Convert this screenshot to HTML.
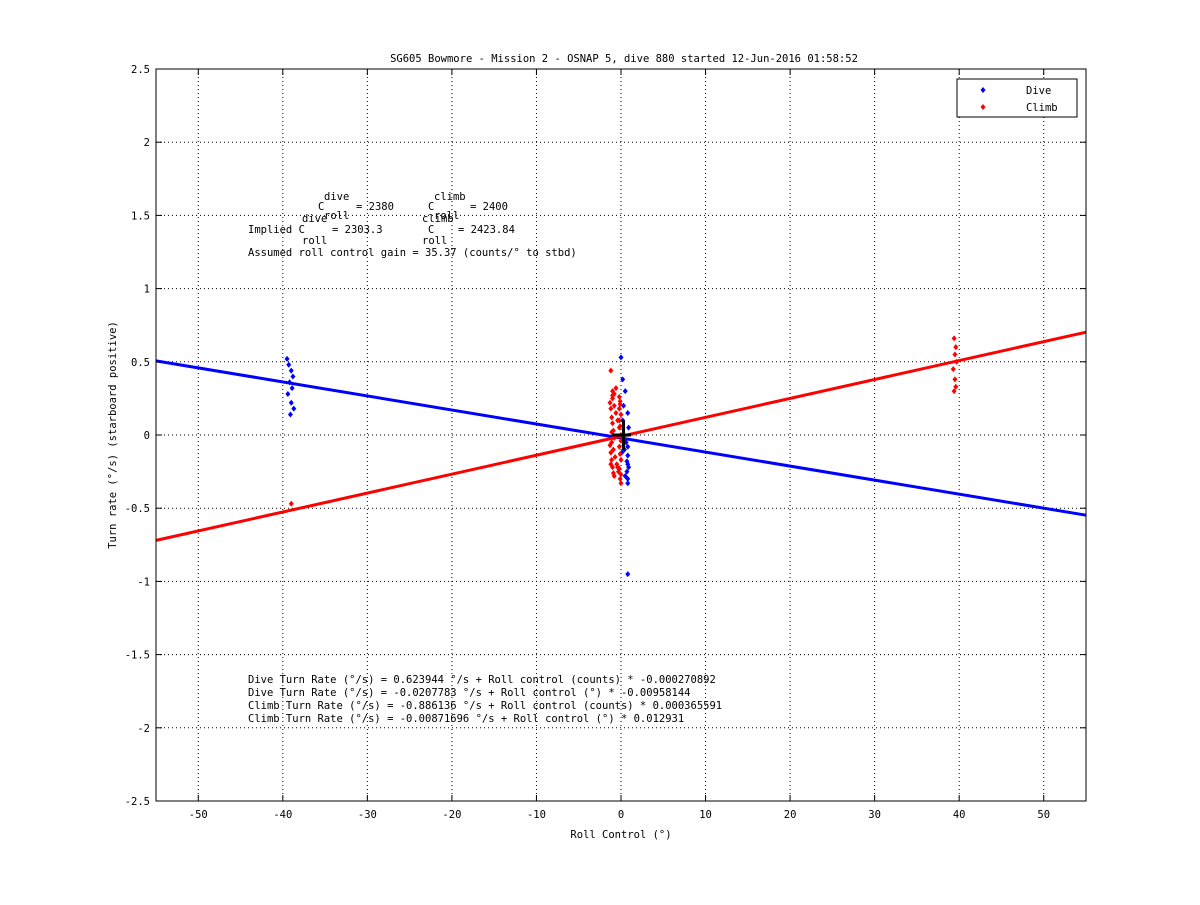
<!DOCTYPE html>
<html><head><meta charset="utf-8"><style>
body{margin:0;background:#fff;}
svg text{font-family:"DejaVu Sans Mono","Liberation Mono",monospace;font-size:10.5px;fill:#000;}
</style></head><body>
<svg id="chart" width="1200" height="900" xmlns="http://www.w3.org/2000/svg">
<rect width="1200" height="900" fill="#fff"/>
<text x="624" y="62" text-anchor="middle">SG605 Bowmore - Mission 2 - OSNAP 5, dive 880 started 12-Jun-2016 01:58:52</text>
<g id="grid"></g>
<g id="marks"></g>
<rect x="156" y="69" width="930" height="732" fill="none" stroke="#000" stroke-width="1"/>
<g id="ticks"></g>
<text x="621" y="838" text-anchor="middle">Roll Control (°)</text>
<text transform="translate(116,435) rotate(-90)" text-anchor="middle">Turn rate (°/s) (starboard positive)</text>
<g>
<text x="324" y="200">dive</text><text x="318" y="210">C</text><text x="356" y="210">= 2380</text><text x="324" y="219">roll</text>
<text x="434" y="200">climb</text><text x="428" y="210">C</text><text x="470" y="210">= 2400</text><text x="434" y="219">roll</text>
<text x="248" y="233">Implied C</text><text x="302" y="222">dive</text><text x="302" y="244">roll</text><text x="332" y="233">= 2303.3</text>
<text x="428" y="233">C</text><text x="422" y="222">climb</text><text x="422" y="244">roll</text><text x="458" y="233">= 2423.84</text>
<text x="248" y="256">Assumed roll control gain = 35.37 (counts/° to stbd)</text>
</g>
<g>
<text x="248" y="683">Dive Turn Rate (°/s) = 0.623944 °/s + Roll control (counts) * -0.000270892</text>
<text x="248" y="696">Dive Turn Rate (°/s) = -0.0207783 °/s + Roll control (°) * -0.00958144</text>
<text x="248" y="709">Climb Turn Rate (°/s) = -0.886136 °/s + Roll control (counts) * 0.000365591</text>
<text x="248" y="722">Climb Turn Rate (°/s) = -0.00871696 °/s + Roll control (°) * 0.012931</text>
</g>
<g>
<rect x="957" y="79" width="120" height="38" fill="#fff" stroke="#000"/>
<path d="M983 87l2.5 3-2.5 3-2.5-3z" fill="#0000ff"/><text x="1026" y="94">Dive</text>
<path d="M983 104l2.5 3-2.5 3-2.5-3z" fill="#ff0000"/><text x="1026" y="111">Climb</text>
</g>
</svg>
<script>
const xTicks=[-50,-40,-30,-20,-10,0,10,20,30,40,50];
const yTicks=[-2.5,-2,-1.5,-1,-0.5,0,0.5,1,1.5,2,2.5];
const diveIntercept=-0.0207783, diveSlope=-0.00958144;
const climbIntercept=-0.00871696, climbSlope=0.012931;
const diveX=[-39.5,-39.3,-39,-38.8,-39.2,-38.9,-39.4,-39,-38.7,-39.1,0,0.2,0.5,0.8,0.9,0.3,0.6,0.1,0.7,0.4,0.9,0.5,0.8,0.2,0.7,0.8,0.8,0.8,0.8,0.8];
const diveY=[0.52,0.48,0.44,0.4,0.36,0.32,0.28,0.22,0.18,0.14,0.53,0.38,0.3,0.15,0.05,0.2,-0.05,-0.12,-0.18,-0.1,-0.22,-0.28,-0.33,0.1,-0.25,-0.95,-0.08,-0.14,-0.2,-0.3];
const climbX=[-39,-1.2,-1,-0.8,-0.6,-0.4,-0.2,0,-1.1,-0.9,-0.7,-0.5,-0.3,-0.1,-1,-0.6,-0.2,-0.8,-0.4,0,
 -1.3,-1.2,-1.1,-1,-0.9,-0.8,-1.3,-1.2,-1.1,-1,-0.9,-0.8,-0.2,-0.1,0,-0.2,-0.1,0,-0.2,-0.1,0,-1.2,-1,-0.2,0,-1.1,-0.1,
 39.4,39.6,39.5,39.7,39.3,39.5,39.6,39.4];
const climbY=[-0.47,0.44,0.25,0.2,0.15,0.1,0.05,0.0,-0.05,-0.1,-0.15,-0.2,-0.25,-0.3,0.3,0.32,0.18,-0.28,-0.22,-0.33,
 0.22,0.18,0.12,0.08,0.03,-0.02,-0.07,-0.12,-0.17,-0.22,-0.26,0.28,0.26,0.21,0.14,0.1,0.06,-0.04,-0.08,-0.13,-0.17,-0.2,0.27,-0.23,-0.27,0.02,0.23,
 0.66,0.6,0.55,0.5,0.45,0.38,0.33,0.3];
const X=v=>156+(v+55)/110*930, Y=v=>435-v/2.5*366;
const ns="http://www.w3.org/2000/svg";
const mk=(t,a,p)=>{const e=document.createElementNS(ns,t);for(const k in a)e.setAttribute(k,a[k]);p.appendChild(e);return e;};
const grid=document.getElementById('grid'),ticks=document.getElementById('ticks'),marks=document.getElementById('marks');
xTicks.forEach(t=>{const x=X(t);
 const g=mk('line',{x1:x,x2:x,y1:69,y2:801,stroke:'#000','stroke-dasharray':'1,3'},grid);
 
 mk('line',{x1:x,x2:x,y1:801,y2:795,stroke:'#000'},ticks);mk('line',{x1:x,x2:x,y1:69,y2:75,stroke:'#000'},ticks);
 const l=mk('text',{x:x,y:818,'text-anchor':'middle'},ticks);l.textContent=t;
 });
yTicks.forEach(t=>{const y=Y(t);
 const g=mk('line',{x1:156,x2:1086,y1:y,y2:y,stroke:'#000','stroke-dasharray':'1,3'},grid);
 
 mk('line',{x1:156,x2:162,y1:y,y2:y,stroke:'#000'},ticks);mk('line',{x1:1086,x2:1080,y1:y,y2:y,stroke:'#000'},ticks);
 const l=mk('text',{x:150,y:y+4,'text-anchor':'end'},ticks);l.textContent=t;
 });
function fit(b,m,c,n){const e=mk('line',{x1:X(-55),y1:Y(b+m*-55),x2:X(55),y2:Y(b+m*55),stroke:c,'stroke-width':3},marks);
 }
function pts(xs,ys,c,n){xs.forEach((v,i)=>{const x=X(v),y=Y(ys[i]);
 const p=mk('path',{d:`M${x} ${y-3}l2.5 3-2.5 3-2.5-3z`,fill:c},marks);
 });}
fit(diveIntercept,diveSlope,'#0000ff','dive-fit-line');
fit(climbIntercept,climbSlope,'#ff0000','climb-fit-line');
pts(diveX,diveY,'#0000ff','dive-point');
pts(climbX,climbY,'#ff0000','climb-point');
const cr=mk('path',{d:`M${X(-1)} ${Y(0)}H${X(1.2)}M${X(0.3)} ${Y(0.1)}V${Y(-0.1)}`,stroke:'#000','stroke-width':3},marks);

</script>
</body></html>
